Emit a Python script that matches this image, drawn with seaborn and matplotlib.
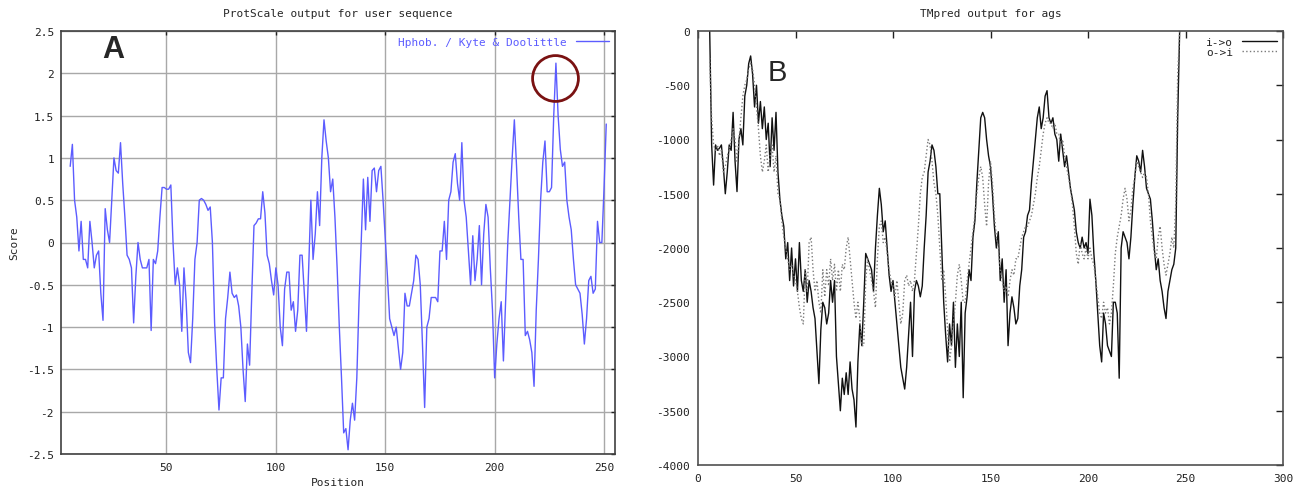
import matplotlib
matplotlib.use('Agg')
import matplotlib.pyplot as plt
import seaborn as sns
import numpy as np
import pandas as pd


# --- panel A: ProtScale, Hphob. / Kyte & Doolittle, positions 6..251 ---
KD_FIRST_POS = 6
kd_score = [
    0.9, 1.16, 0.5, 0.3, -0.1, 0.25, -0.2, -0.2, -0.3, 0.25,
    0.0, -0.3, -0.15, -0.1, -0.6, -0.92, 0.4, 0.15, 0.0, 0.5,
    1.0, 0.85, 0.82, 1.18, 0.7, 0.3, -0.15, -0.2, -0.3, -0.95,
    -0.4, 0.0, -0.2, -0.3, -0.3, -0.3, -0.2, -1.04, -0.2, -0.25,
    -0.1, 0.3, 0.65, 0.65, 0.63, 0.63, 0.68, 0.0, -0.5, -0.3,
    -0.5, -1.05, -0.3, -0.7, -1.3, -1.42, -0.9, -0.2, 0.0, 0.5,
    0.52, 0.5, 0.45, 0.38, 0.42, 0.0, -0.95, -1.5, -1.98, -1.6,
    -1.6, -0.9, -0.65, -0.35, -0.6, -0.65, -0.62, -0.75, -1.0, -1.5,
    -1.88, -1.2, -1.45, -0.6, 0.2, 0.23, 0.28, 0.28, 0.6, 0.35,
    -0.15, -0.25, -0.45, -0.62, -0.3, -0.5, -1.0, -1.22, -0.55, -0.35,
    -0.35, -0.8, -0.7, -1.05, -0.8, -0.15, -0.15, -0.6, -1.05, -0.3,
    0.5, -0.2, 0.1, 0.6, 0.2, 1.0, 1.45, 1.2, 1.0, 0.6,
    0.75, 0.3, -0.3, -1.0, -1.6, -2.25, -2.2, -2.45, -2.1, -1.9,
    -2.1, -1.6, -0.7, 0.0, 0.75, 0.15, 0.77, 0.25, 0.85, 0.88,
    0.6, 0.85, 0.9, 0.5, 0.05, -0.4, -0.9, -1.0, -1.1, -1.0,
    -1.25, -1.5, -1.3, -0.6, -0.75, -0.75, -0.6, -0.45, -0.15, -0.2,
    -0.5, -1.2, -1.95, -1.0, -0.9, -0.65, -0.65, -0.65, -0.7, -0.1,
    -0.1, 0.25, -0.2, 0.5, 0.6, 0.95, 1.05, 0.7, 0.5, 1.18,
    0.5, 0.3, -0.1, -0.5, 0.08, -0.45, -0.2, 0.2, -0.5, 0.1,
    0.45, 0.3, -0.3, -0.8, -1.6, -1.2, -0.9, -0.7, -1.4, -0.7,
    0.0, 0.5, 1.0, 1.45, 0.9, 0.3, -0.2, -0.2, -1.1, -1.05,
    -1.15, -1.3, -1.7, -0.8, -0.2, 0.5, 0.95, 1.2, 0.6, 0.6,
    0.65, 1.5, 2.12, 1.5, 1.1, 0.9, 0.95, 0.5, 0.3, 0.15,
    -0.2, -0.5, -0.55, -0.6, -0.85, -1.2, -0.9, -0.45, -0.4, -0.6,
    -0.55, 0.25, 0.0, 0.0, 0.65, 1.4,
]

# --- panel B: TMpred output, positions 6..247 ---
TM_FIRST_POS = 6
tm_in_out = [
    0, -1050, -1420, -1050, -1100, -1080, -1050, -1250, -1500, -1300,
    -1050, -1100, -750, -1200, -1480, -1000, -900, -1050, -600, -500,
    -300, -230, -400, -700, -500, -850, -650, -900, -700, -1000,
    -850, -1250, -800, -1100, -750, -1300, -1550, -1700, -1800, -2100,
    -1950, -2300, -2000, -2350, -2100, -2400, -1950, -2300, -2400, -2200,
    -2500, -2300, -2400, -2550, -2650, -2950, -3250, -2750, -2500, -2550,
    -2700, -2600, -2300, -2500, -2300, -3000, -3250, -3500, -3200, -3350,
    -3150, -3350, -3050, -3300, -3400, -3650, -3050, -2700, -2900, -2500,
    -2050, -2100, -2150, -2200, -2400, -2000, -1700, -1450, -1600, -1850,
    -1750, -2000, -2250, -2400, -2300, -2500, -2700, -2900, -3100, -3200,
    -3300, -3100, -2800, -2500, -3000, -2400, -2300, -2350, -2450, -2350,
    -2000, -1700, -1300, -1200, -1050, -1100, -1250, -1500, -1500, -2000,
    -2500, -2800, -3050, -2700, -2900, -2500, -3100, -2700, -3000, -2500,
    -3380, -2600, -2450, -2200, -2300, -1900, -1750, -1400, -1100, -800,
    -750, -800, -1000, -1150, -1250, -1500, -1800, -2000, -1850, -2300,
    -2100, -2500, -2200, -2900, -2600, -2450, -2550, -2700, -2650, -2350,
    -2200, -1900, -1850, -1700, -1650, -1400, -1200, -1000, -800, -700,
    -900, -800, -600, -550, -800, -850, -800, -950, -1000, -1200,
    -950, -1100, -1250, -1150, -1300, -1450, -1550, -1650, -1850, -1950,
    -2000, -1900, -2000, -1950, -2050, -1550, -1700, -2050, -2300, -2600,
    -2900, -3050, -2600, -2700, -2900, -2950, -3000, -2500, -2500, -2600,
    -3200, -2000, -1850, -1900, -1950, -2100, -1900, -1600, -1350, -1150,
    -1200, -1300, -1100, -1250, -1450, -1500, -1550, -1750, -2000, -2200,
    -2100, -2300, -2400, -2550, -2650, -2400, -2300, -2200, -2150, -2000,
    -800, 0,
]
tm_out_in = [
    -250, -800, -1050, -1100, -1050, -1150, -1100, -1300, -1250, -1150,
    -1100, -1000, -900, -1000, -1200, -1000, -800, -600, -500, -450,
    -350, -300, -350, -500, -700, -900, -1150, -1300, -1200, -1050,
    -1300, -1150, -1050, -1300, -1150, -1500, -1550, -1750, -1900, -2000,
    -2100, -2200, -2150, -2250, -2300, -2400, -2550, -2650, -2700, -2200,
    -2400, -1950, -1900, -2200, -2400, -2300, -2500, -2600, -2200, -2450,
    -2200, -2350, -2100, -2300, -2150, -2400, -2200, -2400, -2150, -2200,
    -2000, -1900, -2100, -2300, -2500, -2650, -2500, -2650, -2900, -2900,
    -2300, -2100, -2200, -2300, -2400, -2550, -2100, -1800, -1750, -1950,
    -1900, -2050, -2200, -2300, -2350, -2450, -2300, -2500, -2700, -2600,
    -2300, -2250, -2350, -2300, -2400, -2300, -2050, -1800, -1500, -1350,
    -1300, -1150, -1000, -1050, -1200, -1400, -1500, -1700, -2000, -2300,
    -2200, -2450, -2750, -3050, -2900, -2700, -2500, -2250, -2150, -2300,
    -2500, -2500, -2300, -2150, -2000, -1850, -1700, -1500, -1350, -1250,
    -1350, -1600, -1800, -1400, -1200, -1400, -1700, -1900, -2000, -2200,
    -2300, -2400, -2350, -2450, -2300, -2200, -2250, -2100, -2100, -2000,
    -1900, -1850, -1800, -1800, -1750, -1700, -1600, -1500, -1350, -1250,
    -1100, -950, -850, -800, -850, -850, -900, -850, -950, -950,
    -1050, -1000, -1150, -1250, -1350, -1450, -1600, -1800, -2050, -2150,
    -1950, -2050, -2100, -2000, -2100, -2000, -2100, -2150, -2300, -2450,
    -2600, -2650, -2500, -2600, -2550, -2700, -2600, -2350, -2050, -1900,
    -1800, -1700, -1550, -1450, -1550, -1750, -1650, -1450, -1350, -1200,
    -1250, -1300, -1350, -1300, -1350, -1500, -1750, -1900, -2050, -2100,
    -1900, -1800, -2000, -2150, -2250, -2150, -2050, -1900, -2000, -1600,
    -400, 0,
]

a_xticks = [50, 100, 150, 200, 250]
a_yticks = [-2.5, -2, -1.5, -1, -0.5, 0, 0.5, 1, 1.5, 2, 2.5]
b_xticks = [0, 50, 100, 150, 200, 250, 300]
b_yticks = [-4000, -3500, -3000, -2500, -2000, -1500, -1000, -500, 0]


def main():
    sns.set_theme(style='white')
    plt.rcParams['font.family'] = ['DejaVu Sans Mono']
    plt.rcParams['axes.unicode_minus'] = False
    plt.rcParams['font.size'] = 8

    df_a = pd.DataFrame({'Position': np.arange(len(kd_score)) + KD_FIRST_POS,
                         'Score': kd_score})
    df_b = pd.DataFrame({'pos': np.arange(len(tm_in_out)) + TM_FIRST_POS,
                         'i->o': tm_in_out, 'o->i': tm_out_in})

    W, H = 1307, 489
    fig = plt.figure(figsize=(W / 100, H / 100), dpi=100)
    ax_a = fig.add_axes([61 / W, 1 - 455 / H, (615 - 61) / W, (455 - 32) / H])
    ax_b = fig.add_axes([698 / W, 1 - 466 / H, (1283 - 698) / W, (466 - 32) / H])

    # ---- A ----
    ax = ax_a
    sns.lineplot(data=df_a, x='Position', y='Score', ax=ax, color='#5c5cff', lw=1,
                 label='Hphob. / Kyte & Doolittle', estimator=None)
    ax.set_xlim(1.8, 255)
    ax.set_ylim(-2.5, 2.5)
    ax.set_xticks(a_xticks)
    ax.set_yticks(a_yticks)
    ax.set_yticklabels([f'{v:g}' for v in a_yticks])
    ax.grid(True, color='#a8a8a8', lw=1)
    ax.tick_params(direction='in', length=3, width=1, top=True, right=True,
                   labelsize=8, colors='#202020', pad=5)
    ax.tick_params(axis='x', pad=6)
    for s in ax.spines.values():
        s.set_color('#404040')
        s.set_linewidth(1.2)
    ax.set_xlabel('Position', fontsize=8)
    ax.set_ylabel('Score', fontsize=8)
    ax.xaxis.set_label_coords(0.5, -0.054)
    ax.yaxis.set_label_coords(-0.076, 0.5)
    ax.text(0.5, 1.0426, 'ProtScale output for user sequence', transform=ax.transAxes,
            ha='center', va='center', fontsize=8)
    leg = ax.legend(loc='upper right', frameon=False, markerfirst=False,
                    labelcolor='linecolor', handlelength=3.0, fontsize=8,
                    borderaxespad=0.15, handletextpad=0.8)
    ax.text(0.094, 0.957, 'A', transform=ax.transAxes, ha='center', va='center',
            fontsize=22, fontweight='bold', family='Liberation Sans')
    # ring around the highest hydrophobicity peak
    i_peak = int(np.argmax(kd_score))
    ax.plot([df_a['Position'][i_peak] - 0.5], [kd_score[i_peak] - 0.18], marker='o',
            ms=33, mfc='none', mec='#7a1212', mew=2.0, zorder=5)

    # ---- B ----
    ax = ax_b
    sns.lineplot(data=df_b, x='pos', y='i->o', ax=ax, color='#111111', lw=1.0,
                 label='i->o', estimator=None)
    sns.lineplot(data=df_b, x='pos', y='o->i', ax=ax, color='#7a7a7a', lw=1.0,
                 linestyle=':', label='o->i', estimator=None)
    ax.set_xlim(0, 300)
    ax.set_ylim(-4000, 0)
    ax.set_xticks(b_xticks)
    ax.set_yticks(b_yticks)
    ax.set_xlabel('')
    ax.set_ylabel('')
    ax.tick_params(direction='in', length=5, width=1, top=True, right=True,
                   labelsize=8, colors='#202020', pad=6)
    for s in ax.spines.values():
        s.set_color('#505050')
        s.set_linewidth(1.2)
    ax.text(0.5, 1.0415, 'TMpred output for ags', transform=ax.transAxes,
            ha='center', va='center', fontsize=8)
    ax.legend(loc='upper right', frameon=False, markerfirst=False, fontsize=8,
              handlelength=3.2, borderaxespad=0.1, labelspacing=0.05,
              handletextpad=0.8, borderpad=0.4)
    ax.text(0.135, 0.906, 'B', transform=ax.transAxes, ha='center', va='center',
            fontsize=21, family='Liberation Sans')

    fig.savefig('out.png', dpi=100)
    plt.close(fig)


if __name__ == '__main__':
    main()
